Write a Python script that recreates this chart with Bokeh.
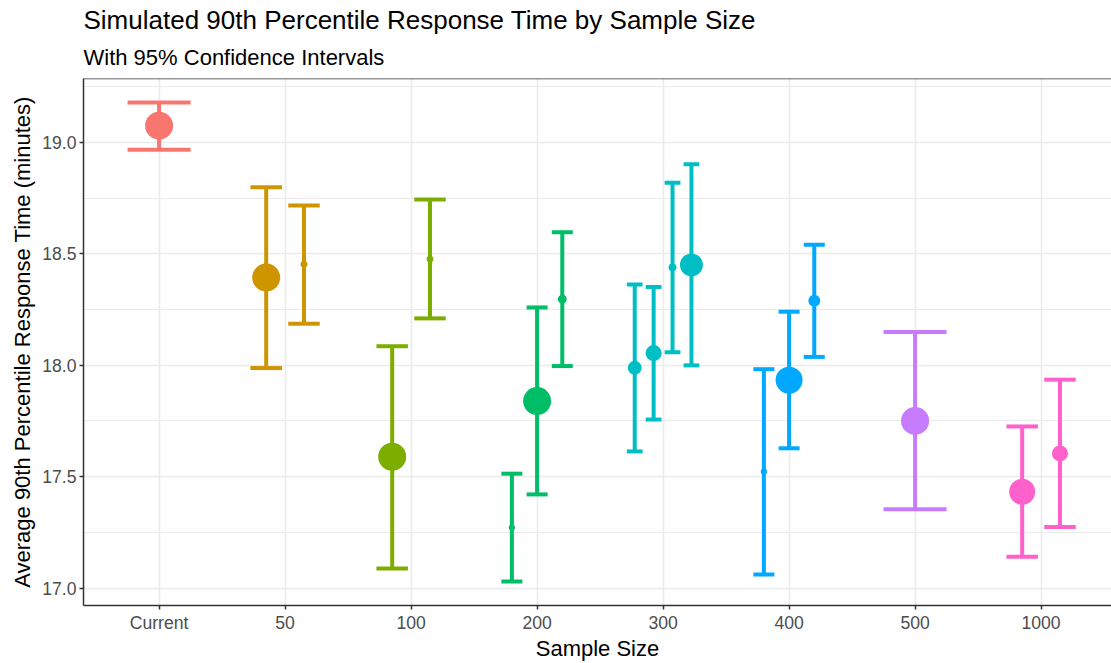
import math
from bokeh.plotting import figure
from bokeh.models import Range1d, FixedTicker, Title, Span, ColumnDataSource, NumeralTickFormatter
from bokeh.embed import file_html
from bokeh.resources import INLINE

# ---------------- data ----------------
categories = ["Current", "50", "100", "200", "300", "400", "500", "1000"]
palette = ["#F8766D", "#CD9600", "#7CAE00", "#00BE67", "#00BFC4", "#00A9FF", "#C77CFF", "#FF61CC"]

sample_size = ["Current", "50", "50", "100", "100", "200", "200", "200",
               "300", "300", "300", "300", "400", "400", "400", "500", "1000", "1000"]
estimate = [19.075, 18.393, 18.453, 17.589, 18.476, 17.271, 17.839, 18.296,
            17.988, 18.054, 18.439, 18.450, 17.522, 17.933, 18.289, 17.750, 17.432, 17.604]
ci_lower = [18.967, 17.987, 18.186, 17.088, 18.210, 17.029, 17.420, 17.996,
            17.613, 17.756, 18.058, 17.999, 17.061, 17.627, 18.037, 17.353, 17.140, 17.274]
ci_upper = [19.179, 18.799, 18.717, 18.085, 18.744, 17.513, 18.259, 18.597,
            18.362, 18.351, 18.819, 18.902, 17.982, 18.240, 18.540, 18.149, 17.725, 17.935]
weight = [1.0, 1.0, 0.06, 1.0, 0.06, 0.05, 1.0, 0.10,
          0.25, 0.33, 0.08, 0.67, 0.05, 0.93, 0.18, 1.0, 0.86, 0.33]

title = "Simulated 90th Percentile Response Time by Sample Size"
subtitle = "With 95% Confidence Intervals"
x_title = "Sample Size"
y_title = "Average 90th Percentile Response Time (minutes)"

# ---------------- dodge positions ----------------
DODGE = 0.6
BAR_W = 0.5
counts = {c: sample_size.count(c) for c in categories}
seen = {c: 0 for c in categories}
xs, half_w, colors, sizes = [], [], [], []
for s, w in zip(sample_size, weight):
    k = categories.index(s) + 1
    n = counts[s]
    i = seen[s]
    seen[s] += 1
    xs.append(k + DODGE * ((i + 0.5) / n - 0.5))
    half_w.append(BAR_W / n / 2)
    colors.append(palette[categories.index(s)])
    sizes.append(28 * math.sqrt(w))

src = ColumnDataSource(dict(
    x=xs, xl=[a - h for a, h in zip(xs, half_w)], xr=[a + h for a, h in zip(xs, half_w)],
    y=estimate, lo=ci_lower, hi=ci_upper, color=colors, size=sizes))

lo_all = min(ci_lower)
hi_all = max(ci_upper)
pad = (hi_all - lo_all) * 0.05

FONT = "Liberation Sans"

p = figure(width=1111, height=663, output_backend="svg", toolbar_location=None,
           x_range=Range1d(0.4, 8.559), y_range=Range1d(lo_all - pad, hi_all + pad),
           min_border_left=83, min_border_right=0, min_border_top=78, min_border_bottom=56,
           title=None, background_fill_color="white", border_fill_color="white")

p.add_layout(Title(text=subtitle, text_font=FONT, text_font_size="22px", text_font_style="normal",
                   text_color="black", align="left", standoff=17), "above")
p.add_layout(Title(text=title, text_font=FONT, text_font_size="26px", text_font_style="normal",
                   text_color="black", align="left", standoff=0), "above")

p.outline_line_color = None

# axes
p.xaxis.ticker = FixedTicker(ticks=list(range(1, len(categories) + 1)))
p.xaxis.major_label_overrides = {i + 1: c for i, c in enumerate(categories)}
p.yaxis.ticker = FixedTicker(ticks=[17.0, 17.5, 18.0, 18.5, 19.0],
                             minor_ticks=[17.25, 17.75, 18.25, 18.75, 19.25])
p.yaxis.formatter = NumeralTickFormatter(format="0.0")
for ax in (p.xaxis[0], p.yaxis[0]):
    ax.axis_line_color = "#333333"
    ax.axis_line_width = 1.5
    ax.major_tick_line_color = "#333333"
    ax.major_tick_line_width = 1.5
    ax.major_tick_out = 4
    ax.major_tick_in = 0
    ax.minor_tick_line_color = None
    ax.major_label_text_font = FONT
    ax.major_label_text_font_size = "17.6px"
    ax.major_label_text_color = "#4D4D4D"
    ax.major_label_standoff = 3
    ax.axis_label_text_font = FONT
    ax.axis_label_text_font_size = "22px"
    ax.axis_label_text_font_style = "normal"
    ax.axis_label_text_color = "black"
p.xaxis.axis_label = x_title
p.yaxis.axis_label = y_title
p.xaxis.axis_label_standoff = 0
p.yaxis.axis_label_standoff = 4

# grid
p.xgrid.ticker = FixedTicker(ticks=list(range(1, len(categories) + 1)))
p.xgrid.grid_line_color = "#EBEBEB"
p.xgrid.grid_line_width = 1.6
p.ygrid.ticker = p.yaxis.ticker
p.ygrid.grid_line_color = "#EBEBEB"
p.ygrid.grid_line_width = 1.6
p.ygrid.minor_grid_line_color = "#EBEBEB"
p.ygrid.minor_grid_line_width = 1.0

# top border
p.add_layout(Span(location=hi_all + pad, dimension="width", line_color="#333333", line_width=1.5))

# error bars
p.segment(x0="x", y0="lo", x1="x", y1="hi", source=src, line_color="color", line_width=4)
p.segment(x0="xl", y0="hi", x1="xr", y1="hi", source=src, line_color="color", line_width=4)
p.segment(x0="xl", y0="lo", x1="xr", y1="lo", source=src, line_color="color", line_width=4)
# points
p.scatter(x="x", y="y", size="size", source=src, fill_color="color", line_color="color", line_width=0)

open("out.html", "w").write(file_html(p, INLINE))
